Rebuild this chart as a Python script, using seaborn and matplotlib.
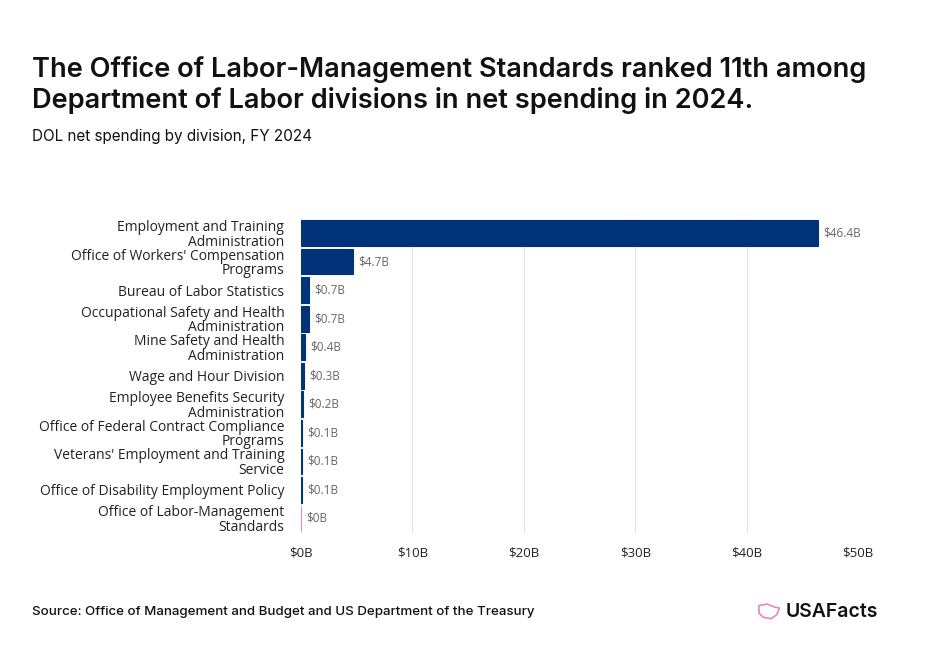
import matplotlib
matplotlib.use("Agg")
import matplotlib.pyplot as plt
from matplotlib.patches import Polygon
import seaborn as sns
import pandas as pd

# DOL net spending by division, FY 2024 (billions)
divisions = [
    "Employment and Training\nAdministration",
    "Office of Workers' Compensation\nPrograms",
    "Bureau of Labor Statistics",
    "Occupational Safety and Health\nAdministration",
    "Mine Safety and Health\nAdministration",
    "Wage and Hour Division",
    "Employee Benefits Security\nAdministration",
    "Office of Federal Contract Compliance\nPrograms",
    "Veterans' Employment and Training\nService",
    "Office of Disability Employment Policy",
    "Office of Labor-Management\nStandards",
]
spending = [46.4, 4.7, 0.7, 0.7, 0.4, 0.3, 0.2, 0.1, 0.1, 0.1, 0.04]
value_labels = ["$46.4B", "$4.7B", "$0.7B", "$0.7B", "$0.4B", "$0.3B",
                "$0.2B", "$0.1B", "$0.1B", "$0.1B", "$0B"]
x_ticks = [0, 10, 20, 30, 40, 50]
x_tick_labels = ["$0B", "$10B", "$20B", "$30B", "$40B", "$50B"]
highlight = "Office of Labor-Management\nStandards"

df = pd.DataFrame({"division": divisions, "spending": spending})
df["group"] = ["highlight" if d == highlight else "other" for d in df["division"]]

sns.set_style("white")
plt.rcParams["font.family"] = ["Open Sans", "DejaVu Sans"]

fig = plt.figure(figsize=(9.29, 6.61), dpi=100)
ax = fig.add_axes([0.324, 0.194, 0.5996, 0.475])

sns.barplot(data=df, y="division", x="spending", hue="group",
            palette={"other": "#00337a", "highlight": "#e888b8"},
            saturation=1, dodge=False, width=0.9, legend=False, ax=ax)

# thin edge so the tiny bars stay visible
for p in ax.patches:
    p.set_edgecolor(p.get_facecolor())
    p.set_linewidth(0.8)

for i, lab in enumerate(value_labels):
    ax.text(spending[i] + 0.45, i, lab, va="center", ha="left",
            fontsize=8.5, color="#666666")

ax.set_xlim(0, 50)
ax.set_ylim(10.5, -0.5)
ax.set_xticks(x_ticks)
ax.set_xticklabels(x_tick_labels, fontsize=9.5, color="#222222")
ax.tick_params(axis="y", labelsize=10, length=0, pad=12, colors="#222222")
ax.tick_params(axis="x", length=0, pad=10)
for t in ax.get_yticklabels():
    t.set_linespacing(0.95)
ax.set_xlabel("")
ax.set_ylabel("")
ax.grid(axis="x", color="#e3e3e3", linewidth=0.8)
ax.set_axisbelow(True)
sns.despine(ax=ax, left=True, bottom=True)

title_font = ["Inter", "DejaVu Sans"]
fig.text(0.034, 0.895, "The Office of Labor-Management Standards ranked 11th among",
         fontsize=19.6, fontweight="semibold", family=title_font,
         color="#111111", va="center")
fig.text(0.034, 0.848, "Department of Labor divisions in net spending in 2024.",
         fontsize=19.6, fontweight="semibold", family=title_font,
         color="#111111", va="center")
fig.text(0.034, 0.794, "DOL net spending by division, FY 2024",
         fontsize=11, family=title_font, color="#111111", va="center")
fig.text(0.034, 0.074, "Source: Office of Management and Budget and US Department of the Treasury",
         fontsize=9.6, fontweight="medium", family=title_font,
         color="#111111", va="center")
fig.text(0.945, 0.074, "USAFacts", fontsize=14, fontweight="semibold",
         family=title_font, color="#111111", va="center", ha="right")

# small pink map outline next to the logo text
outline = [(0.817, 0.084), (0.826, 0.086), (0.833, 0.082), (0.839, 0.080),
           (0.836, 0.070), (0.830, 0.064), (0.822, 0.066), (0.817, 0.072)]
fig.patches.append(Polygon(outline, closed=True, fill=False, edgecolor="#e888b8",
                           linewidth=1.2, transform=fig.transFigure))

fig.savefig("out.png", dpi=100)
